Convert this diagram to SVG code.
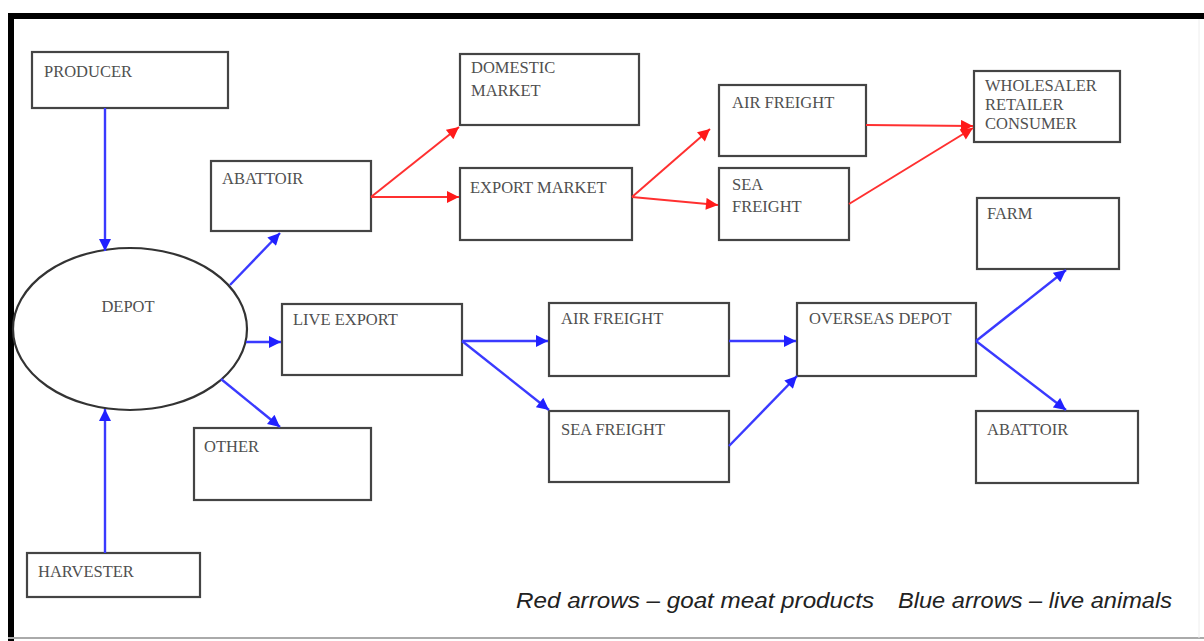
<svg xmlns="http://www.w3.org/2000/svg" width="1204" height="641" viewBox="0 0 1204 641">
<style>
.box{fill:#fff;stroke:#444;stroke-width:2.2}
.lbl{font-family:"Liberation Serif","Times New Roman",serif;font-size:16.5px;fill:#505050}
.blue{stroke:#3a3aff;stroke-width:2.4;fill:none;marker-end:url(#ab)}
.red{stroke:#ff3030;stroke-width:2;fill:none;marker-end:url(#ar)}
.cap{font-family:"Liberation Sans",Arial,sans-serif;font-size:22px;font-style:italic;fill:#222}
</style>
<defs>
<marker id="ab" viewBox="0 0 10 10" refX="10" refY="5" markerWidth="5.5" markerHeight="5" orient="auto" markerUnits="strokeWidth"><path d="M0,0L10,5L0,10z" fill="#2020ff"/></marker>
<marker id="ar" viewBox="0 0 10 10" refX="10" refY="5" markerWidth="6.5" markerHeight="6" orient="auto" markerUnits="strokeWidth"><path d="M0,0L10,5L0,10z" fill="#ff1a1a"/></marker>
</defs>
<rect x="0" y="0" width="1204" height="641" fill="#fff"/>
<line x1="8" y1="16" x2="1204" y2="16" stroke="#000" stroke-width="6"/>
<line x1="11" y1="13" x2="11" y2="641" stroke="#000" stroke-width="6"/>
<line x1="8" y1="638" x2="1204" y2="638" stroke="#aaa" stroke-width="2"/>
<line x1="1199" y1="19" x2="1199" y2="638" stroke="#eee" stroke-width="1"/>

<g id="producer"><rect class="box" x="32" y="52" width="196" height="56"/><text class="lbl" x="44" y="77">PRODUCER</text></g>
<g id="abattoir1"><rect class="box" x="211" y="161" width="160" height="70"/><text class="lbl" x="222" y="184">ABATTOIR</text></g>
<g id="domestic"><rect class="box" x="460" y="54" width="179" height="71"/><text class="lbl" x="471" y="73">DOMESTIC</text><text class="lbl" x="471" y="96">MARKET</text></g>
<g id="export"><rect class="box" x="460" y="168" width="172" height="72"/><text class="lbl" x="470" y="193">EXPORT MARKET</text></g>
<g id="air1"><rect class="box" x="719" y="85" width="147" height="71"/><text class="lbl" x="732" y="108">AIR FREIGHT</text></g>
<g id="sea1"><rect class="box" x="719" y="168" width="130" height="72"/><text class="lbl" x="732" y="190">SEA</text><text class="lbl" x="732" y="212">FREIGHT</text></g>
<g id="wholesaler"><rect class="box" x="974" y="71" width="146" height="71"/><text class="lbl" x="985" y="91">WHOLESALER</text><text class="lbl" x="985" y="110">RETAILER</text><text class="lbl" x="985" y="129">CONSUMER</text></g>
<g id="farm"><rect class="box" x="977" y="198" width="142" height="71"/><text class="lbl" x="987" y="219">FARM</text></g>
<g id="depot"><ellipse cx="130" cy="329" rx="117" ry="81" fill="#fff" stroke="#333" stroke-width="2.2"/><text class="lbl" x="128" y="312" text-anchor="middle">DEPOT</text></g>
<g id="liveexport"><rect class="box" x="282" y="304" width="180" height="71"/><text class="lbl" x="293" y="325">LIVE EXPORT</text></g>
<g id="other"><rect class="box" x="194" y="428" width="177" height="72"/><text class="lbl" x="204" y="452">OTHER</text></g>
<g id="air2"><rect class="box" x="549" y="303" width="180" height="73"/><text class="lbl" x="561" y="324">AIR FREIGHT</text></g>
<g id="sea2"><rect class="box" x="549" y="411" width="180" height="71"/><text class="lbl" x="561" y="435">SEA FREIGHT</text></g>
<g id="overseas"><rect class="box" x="797" y="303" width="179" height="73"/><text class="lbl" x="809" y="324">OVERSEAS DEPOT</text></g>
<g id="abattoir2"><rect class="box" x="976" y="411" width="162" height="72"/><text class="lbl" x="987" y="435">ABATTOIR</text></g>
<g id="harvester"><rect class="box" x="27" y="553" width="173" height="44"/><text class="lbl" x="38" y="577">HARVESTER</text></g>

<g id="connectors">
<line class="blue" x1="105" y1="108" x2="105" y2="251"/>
<line class="blue" x1="105" y1="553" x2="105" y2="409"/>
<line class="blue" x1="230" y1="285" x2="280" y2="233"/>
<line class="blue" x1="246" y1="342" x2="281" y2="342"/>
<line class="blue" x1="221" y1="379" x2="280" y2="427"/>
<line class="blue" x1="462" y1="341" x2="548" y2="341"/>
<line class="blue" x1="462" y1="341" x2="549" y2="410"/>
<line class="blue" x1="729" y1="341" x2="796" y2="341"/>
<line class="blue" x1="729" y1="446" x2="797" y2="376"/>
<line class="blue" x1="976" y1="341" x2="1066" y2="270"/>
<line class="blue" x1="976" y1="341" x2="1066" y2="410"/>
<line class="red" x1="371" y1="197" x2="459" y2="127"/>
<line class="red" x1="371" y1="197" x2="459" y2="197"/>
<line class="red" x1="632" y1="197" x2="710" y2="129"/>
<line class="red" x1="632" y1="197" x2="718" y2="205"/>
<line class="red" x1="866" y1="125" x2="973" y2="126"/>
<line class="red" x1="849" y1="204" x2="973" y2="128"/>
</g>

<text class="cap" x="516" y="608" textLength="358" lengthAdjust="spacingAndGlyphs">Red arrows – goat meat products</text>
<text class="cap" x="898" y="608" textLength="274" lengthAdjust="spacingAndGlyphs">Blue arrows – live animals</text>
</svg>
